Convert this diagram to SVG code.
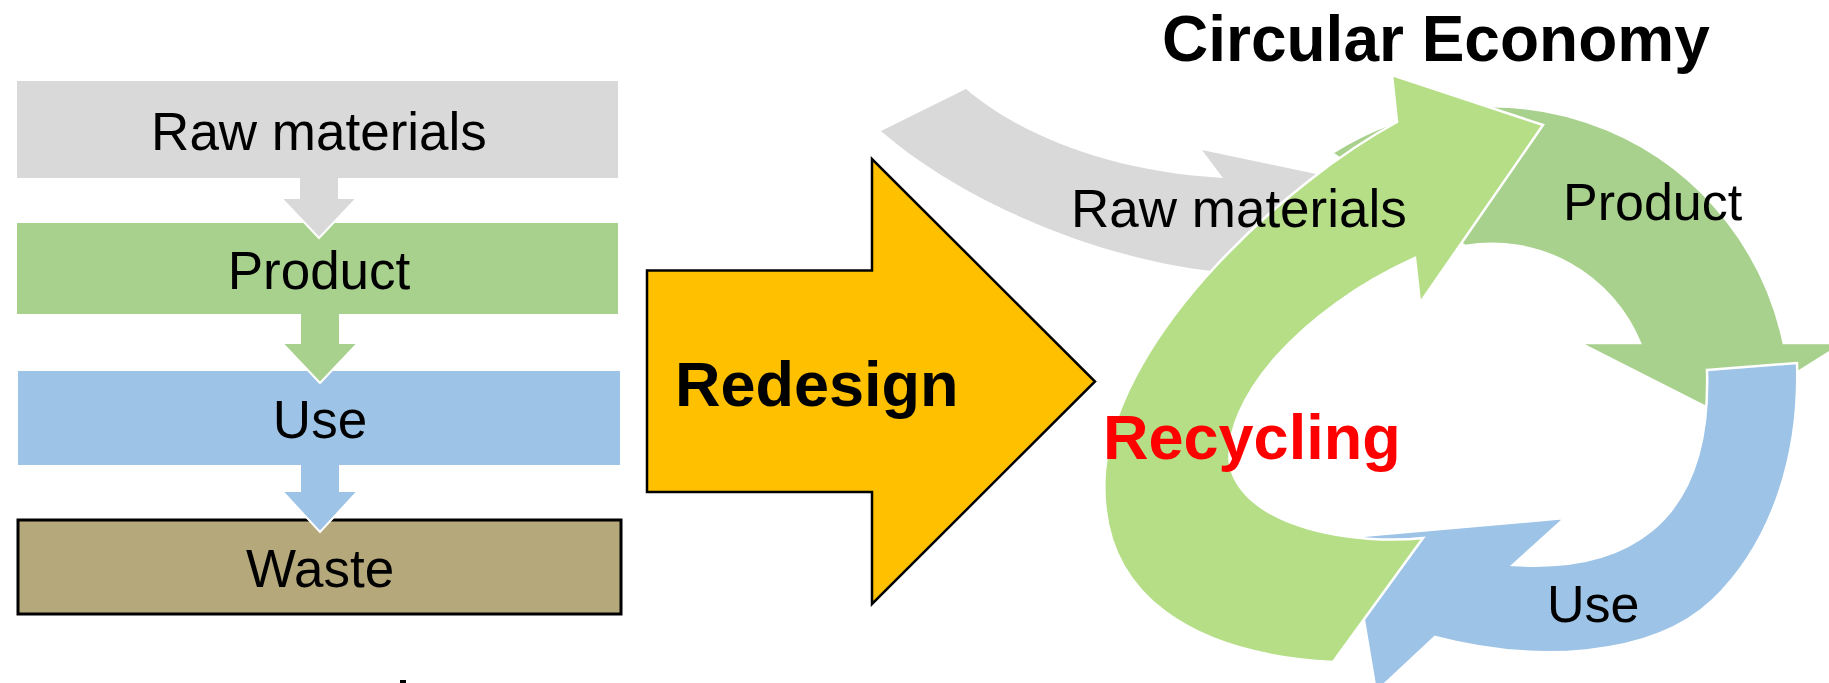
<svg xmlns="http://www.w3.org/2000/svg" width="1829" height="683" viewBox="0 0 1829 683">
<style>
.t{font-family:"Liberation Sans",Arial,sans-serif;fill:#000}
.n{font-size:53px}
.b{font-weight:bold;font-size:63px}
.ring{stroke:#fff;stroke-width:2.5;stroke-linejoin:miter}
.hl{fill:none;stroke:#fff;stroke-width:2}
</style>
<rect width="1829" height="683" fill="#fff"/>

<!-- Linear economy -->
<g id="node-raw">
<rect x="17" y="81" width="601" height="97" fill="#D9D9D9"/>
<text class="t n" x="319" y="150" text-anchor="middle">Raw materials</text>
</g>
<g id="node-product">
<rect x="17" y="223" width="601" height="91" fill="#A9D18E"/>
<text class="t n" x="319" y="289" text-anchor="middle">Product</text>
</g>
<g id="node-use">
<rect x="18" y="371" width="602" height="94" fill="#9DC3E6"/>
<text class="t n" x="320" y="438" text-anchor="middle">Use</text>
</g>
<g id="node-waste">
<rect x="18" y="520" width="603" height="94" fill="#B5A97B" stroke="#000" stroke-width="3"/>
<text class="t n" x="320" y="587" text-anchor="middle">Waste</text>
</g>

<g id="connectors">
<polygon points="300,178 338,178 338,199 356,199 319,238 282,199 300,199" fill="#D9D9D9"/>
<path class="hl" d="M282,199 L319,238 L356,199"/>
<polygon points="301,314 339,314 339,344 357,344 320,383 283,344 301,344" fill="#A9D18E"/>
<path class="hl" d="M283,344 L320,383 L357,344"/>
<polygon points="301,465 339,465 339,492 357,492 320,532 283,492 301,492" fill="#9DC3E6"/>
<path class="hl" d="M283,492 L320,532 L357,492"/>
</g>

<!-- Redesign arrow -->
<g id="redesign">
<polygon points="647,270.5 872,270.5 872,159 1095,381.5 872,604 872,492 647,492" fill="#FFC000" stroke="#000" stroke-width="2.5"/>
<text class="t b" x="675" y="406">Redesign</text>
</g>

<!-- Circular economy -->
<g id="title">
<text class="t" x="1162" y="61" style="font-size:64px;font-weight:bold">Circular Economy</text>
</g>

<g id="circ-raw">
<path d="M966,89 C1020,135 1110,172 1223,178 L1202,150 L1335,178 L1262,300 L1230,273 C1100,262 960,200 881,131 Z" fill="#D9D9D9"/>
</g>

<g id="circ-product">
<path class="ring" d="M1332,153 A298,298 0 0 1 1783.7,343 L1844,343 L1726,417 L1580,343 L1640,343 A160,160 0 0 0 1465,246 Z" fill="#A9D18E"/>
</g>

<g id="circ-use">
<path class="ring" d="M1707,370 L1797,363 C1800,450 1775,540 1713,600 C1650,660 1530,662 1435,637 L1376,692 L1350,537 L1565,518 L1513,565 C1620,572 1712,530 1707,370 Z" fill="#9DC3E6"/>
</g>

<g id="circ-recycling">
<path class="ring" d="M1333,662 L1423,538 C1360,545 1245,530 1230,465 C1222,400 1300,310 1415,258 L1420,303 L1543,125 L1392,75 L1397,122 C1290,180 1120,330 1105,470 C1095,600 1200,655 1333,662 Z" fill="#B5DE87"/>
</g>

<g id="labels">
<text class="t n" x="1071" y="227">Raw materials</text>
<text class="t" x="1563" y="220" style="font-size:52px">Product</text>
<text class="t" x="1547" y="622" style="font-size:52px">Use</text>
<text class="t b" x="1103" y="459" style="fill:#FF0000">Recycling</text>
</g>

<rect x="400" y="680" width="6" height="3" fill="#000"/>
</svg>
